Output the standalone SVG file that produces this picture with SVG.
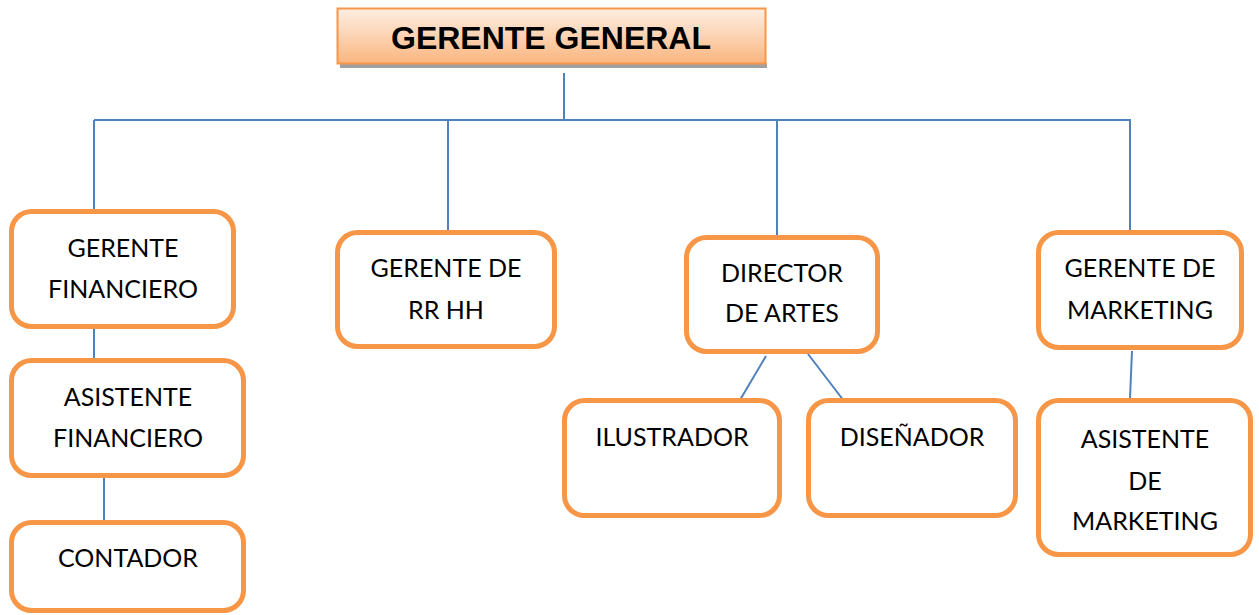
<svg xmlns="http://www.w3.org/2000/svg" width="1259" height="615" viewBox="0 0 1259 615">
<style>
.box{fill:#fff;stroke:#F79646;stroke-width:5}
.t{font-family:Lato,"Open Sans","Liberation Sans",sans-serif;font-size:25px;fill:#000;text-anchor:middle}
.c{stroke:#4F81BD;stroke-width:2;fill:none}
.title{font-family:"Liberation Sans",Arial,sans-serif;font-weight:bold;font-size:32px;fill:#000;text-anchor:middle}
</style>
<defs>
<linearGradient id="g" x1="0" y1="0" x2="0" y2="1">
<stop offset="0" stop-color="#FDEEE2"/>
<stop offset="0.5" stop-color="#FCD3B2"/>
<stop offset="1" stop-color="#FAB57E"/>
</linearGradient>
</defs>
<rect width="1259" height="615" fill="#fff"/>
<g id="connectors">
<path class="c" d="M564 73V120M94 120H1131M94 120V211M448 120V232M777 120V236M1130 120V232"/>
<path class="c" d="M94 327V360M104 477V521M766 356L740 400M808 354L844 401M1132 351L1130 398"/>
</g>
<g id="gerente-general">
<rect x="340" y="63" width="427" height="5" fill="#A0A0A0"/>
<rect x="337.5" y="8.5" width="428" height="55" fill="url(#g)" stroke="#F79646" stroke-width="2"/>
<text class="title" x="551" y="49">GERENTE GENERAL</text>
</g>
<g id="gerente-financiero">
<rect class="box" x="11.5" y="211.5" width="222" height="115" rx="20"/>
<text class="t" x="123" y="257">GERENTE</text>
<text class="t" x="123" y="298">FINANCIERO</text>
</g>
<g id="asistente-financiero">
<rect class="box" x="11.5" y="360.5" width="232" height="115" rx="20"/>
<text class="t" x="128" y="406">ASISTENTE</text>
<text class="t" x="128" y="447">FINANCIERO</text>
</g>
<g id="contador">
<rect class="box" x="11.5" y="522.5" width="232" height="88" rx="20"/>
<text class="t" x="128" y="567">CONTADOR</text>
</g>
<g id="gerente-rrhh">
<rect class="box" x="337.5" y="232.5" width="217" height="114" rx="20"/>
<text class="t" x="446" y="277">GERENTE DE</text>
<text class="t" x="446" y="319">RR HH</text>
</g>
<g id="director-artes">
<rect class="box" x="686.5" y="237.5" width="191" height="114" rx="20"/>
<text class="t" x="782" y="282">DIRECTOR</text>
<text class="t" x="782" y="322">DE ARTES</text>
</g>
<g id="ilustrador">
<rect class="box" x="564.5" y="400.5" width="215" height="115" rx="20"/>
<text class="t" x="672" y="446">ILUSTRADOR</text>
</g>
<g id="disenador">
<rect class="box" x="808.5" y="400.5" width="207" height="115" rx="20"/>
<text class="t" x="912" y="446">DISEÑADOR</text>
</g>
<g id="gerente-marketing">
<rect class="box" x="1038.5" y="232.5" width="203" height="115" rx="20"/>
<text class="t" x="1140" y="277">GERENTE DE</text>
<text class="t" x="1140" y="319">MARKETING</text>
</g>
<g id="asistente-marketing">
<rect class="box" x="1038.5" y="400.5" width="212" height="154" rx="20"/>
<text class="t" x="1145" y="448">ASISTENTE</text>
<text class="t" x="1145" y="490">DE</text>
<text class="t" x="1145" y="530">MARKETING</text>
</g>
</svg>
